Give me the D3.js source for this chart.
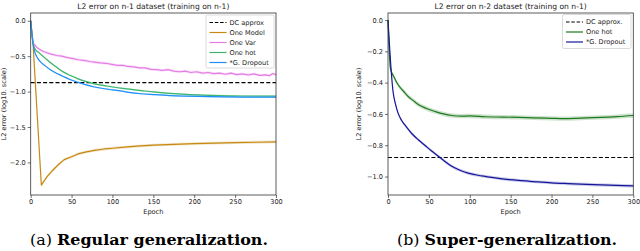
<!DOCTYPE html>
<html><head><meta charset="utf-8">
<script src="https://cdn.jsdelivr.net/npm/d3@7"></script>
<style>body{margin:0;background:#fff}svg{display:block}text{font-family:"DejaVu Sans",sans-serif;fill:#222}text.cap{font-family:"DejaVu Serif","Liberation Serif",serif;fill:#000}</style>
</head><body>
<svg id="c" width="640" height="251"></svg>
<script>
// ---- data ----
const xTicks = [0, 50, 100, 150, 200, 250, 300];
const yTicksA = [0, -0.5, -1.0, -1.5, -2.0];
const yTicksB = [0, -0.2, -0.4, -0.6, -0.8, -1.0];
const dcA = -0.873, dcB = -0.878;

const oneModelA = [[0,0],[3,-0.35],[13,-2.32],[20,-2.2],[27,-2.11],[34,-2.03],[41,-1.96],[50,-1.92],[58,-1.88],[68,-1.85],[78,-1.83],[90,-1.81],[100,-1.80],[115,-1.785],[130,-1.77],[150,-1.755],[175,-1.745],[200,-1.735],[225,-1.728],[250,-1.72],[275,-1.715],[300,-1.71]];
const oneVarA = [[0,0],[3,-0.32],[8,-0.38],[13,-0.42],[17,-0.44],[25,-0.47],[32,-0.49],[38,-0.50],[45,-0.52],[52,-0.535],[58,-0.55],[65,-0.56],[72,-0.575],[78,-0.585],[85,-0.595],[92,-0.60],[99,-0.615],[106,-0.63],[113,-0.63],[119,-0.645],[126,-0.65],[133,-0.665],[140,-0.665],[147,-0.685],[154,-0.69],[161,-0.70],[168,-0.69],[175,-0.71],[182,-0.72],[189,-0.71],[196,-0.73],[203,-0.72],[210,-0.74],[217,-0.73],[224,-0.745],[231,-0.74],[238,-0.755],[245,-0.74],[252,-0.76],[259,-0.75],[266,-0.765],[273,-0.75],[280,-0.77],[287,-0.765],[292,-0.775],[296,-0.745],[300,-0.76]];
const oneHotA = [[0,0],[3,-0.33],[5,-0.39],[10,-0.45],[17,-0.52],[24,-0.59],[31,-0.65],[38,-0.71],[48,-0.77],[58,-0.82],[68,-0.86],[78,-0.89],[90,-0.915],[100,-0.935],[110,-0.95],[120,-0.965],[135,-0.985],[150,-1.005],[170,-1.025],[190,-1.04],[210,-1.05],[230,-1.057],[260,-1.062],[300,-1.064]];
const dropoutA = [[0,0],[3,-0.33],[5,-0.44],[8,-0.52],[12,-0.58],[17,-0.63],[25,-0.70],[32,-0.745],[38,-0.775],[48,-0.83],[58,-0.87],[68,-0.905],[78,-0.935],[90,-0.96],[100,-0.975],[110,-0.99],[120,-1.01],[135,-1.03],[150,-1.042],[170,-1.056],[190,-1.064],[220,-1.072],[260,-1.077],[300,-1.079]];

const oneHotB = [[0,0],[3,-0.31],[7,-0.36],[12.6,-0.415],[19,-0.455],[25,-0.49],[31,-0.515],[37,-0.54],[47,-0.565],[58,-0.585],[68,-0.60],[78,-0.61],[90,-0.614],[100,-0.613],[119,-0.618],[140,-0.62],[160,-0.622],[178,-0.625],[200,-0.628],[215,-0.63],[230,-0.628],[243,-0.625],[260,-0.622],[280,-0.617],[300,-0.61]];
const dropoutB = [[0,0],[3.7,-0.31],[6,-0.45],[8.8,-0.53],[12,-0.59],[16.5,-0.64],[22,-0.68],[29,-0.725],[37,-0.765],[45,-0.80],[53,-0.835],[62,-0.872],[70,-0.905],[78,-0.935],[88,-0.96],[98,-0.978],[110,-0.992],[120,-1.0],[140,-1.015],[160,-1.025],[178,-1.032],[200,-1.04],[220,-1.045],[243,-1.05],[270,-1.055],[300,-1.06]];

const legendA = ["DC approx", "One Model", "One Var", "One hot", "*G. Dropout"];
const legendB = ["DC approx.", "One hot", "*G. Dropout"];

// ---- drawing ----
const svg = d3.select("#c");
const fmt = v => (v === 0 ? "0.0" : d3.format(".1f")(v)).replace("-", "\u2212");

function panel(o) {
  const x = d3.scaleLinear().domain([0, 300]).range([o.x0, o.x1]);
  const y = d3.scaleLinear().domain(o.yDom).range([13, 195]);
  const g = svg.append("g");
  o.series.forEach(s => {
    const area = d3.area().curve(s.curve).x(d => x(d[0])).y0(d => y(d[1] - s.sp)).y1(d => y(d[1] + s.sp));
    g.append("path").attr("d", area(s.data)).attr("fill", s.color).attr("opacity", 0.22);
  });
  g.append("line").attr("x1", x(0)).attr("x2", x(300)).attr("y1", y(o.dc)).attr("y2", y(o.dc))
    .attr("stroke", "#000").attr("stroke-width", 1.1).attr("stroke-dasharray", "4,2.2");
  o.series.forEach(s => {
    const line = d3.line().curve(s.curve).x(d => x(d[0])).y(d => y(d[1]));
    g.append("path").attr("d", line(s.data)).attr("fill", "none").attr("stroke", s.color)
      .attr("stroke-width", 1.2).attr("stroke-linejoin", "round");
  });
  // axes
  const ax = g.append("g").attr("transform", `translate(0,195)`)
    .call(d3.axisBottom(x).tickValues(xTicks).tickSize(3).tickPadding(1.5).tickFormat(d3.format("d")));
  const ay = g.append("g").attr("transform", `translate(${o.x0},0)`)
    .call(d3.axisLeft(y).tickValues(o.yTicks).tickSize(3).tickPadding(2).tickFormat(fmt));
  [ax, ay].forEach(a => {
    a.select(".domain").remove();
    a.selectAll("text").attr("font-size", 6.6).attr("fill", "#222");
    a.selectAll("line").attr("stroke", "#333").attr("stroke-width", 0.7);
  });
  g.append("rect").attr("x", o.x0).attr("y", 13).attr("width", o.x1 - o.x0).attr("height", 182)
    .attr("fill", "none").attr("stroke", "#333").attr("stroke-width", 0.8);
  // labels
  const cx = (o.x0 + o.x1) / 2;
  g.append("text").attr("x", cx).attr("y", 9).attr("text-anchor", "middle").attr("font-size", 7.6).text(o.title);
  g.append("text").attr("x", cx).attr("y", 214).attr("text-anchor", "middle").attr("font-size", 6.6).text("Epoch");
  g.append("text").attr("transform", `translate(${o.ylx},104) rotate(-90)`).attr("text-anchor", "middle")
    .attr("font-size", 6.6).text("L2 error (log10. scale)");
  // legend
  const L = o.leg;
  g.append("rect").attr("x", L.x).attr("y", L.y).attr("width", L.w).attr("height", L.h).attr("rx", 1.5)
    .attr("fill", "#fff").attr("fill-opacity", 0.85).attr("stroke", "#ccc").attr("stroke-width", 0.7);
  const items = [{color: "#000", dash: true}].concat(o.series);
  items.forEach((s, i) => {
    const yy = L.y + 7.5 + i * 10;
    g.append("line").attr("x1", L.x + 3.5).attr("x2", L.x + 20.5).attr("y1", yy).attr("y2", yy)
      .attr("stroke", s.color).attr("stroke-width", 1.2).attr("stroke-dasharray", s.dash ? "3.5,1.8" : null);
    g.append("text").attr("x", L.x + 23.5).attr("y", yy + 2.4).attr("font-size", 6.6).text(o.names[i]);
  });
  // caption
  const cap = svg.append("text").attr("class", "cap").attr("y", 245).attr("font-size", 14.5);
  cap.append("tspan").text(o.cap[0]);
  cap.append("tspan").attr("font-weight", "bold").text(o.cap[1]);
  cap.attr("x", o.capX).attr("textLength", o.capW).attr("lengthAdjust", "spacingAndGlyphs");
}

const smooth = d3.curveMonotoneX, sharp = d3.curveLinear;
panel({x0: 30.7, x1: 276, yDom: [0.11, -2.46], yTicks: yTicksA, dc: dcA,
  title: "L2 error on n-1 dataset (training on n-1)", ylx: 6,
  series: [
    {data: oneModelA, color: "#c68a12", sp: 0.02, curve: sharp},
    {data: oneVarA, color: "#e57de4", sp: 0.02, curve: sharp},
    {data: oneHotA, color: "#3db46d", sp: 0.012, curve: smooth},
    {data: dropoutA, color: "#1e8ffa", sp: 0.01, curve: smooth}],
  names: legendA, leg: {x: 206, y: 15, w: 68, h: 53},
  cap: ["(a) ", "Regular generalization."], capX: 30, capW: 238});

panel({x0: 388, x1: 633.3, yDom: [0.045, -1.118], yTicks: yTicksB, dc: dcB,
  title: "L2 error on n-2 dataset (training on n-1)", ylx: 361,
  series: [
    {data: oneHotB, color: "#1e7a1e", sp: 0.014, curve: smooth},
    {data: dropoutB, color: "#16169a", sp: 0.01, curve: smooth}],
  names: legendB, leg: {x: 562.5, y: 14.5, w: 68.5, h: 34},
  cap: ["(b) ", "Super-generalization."], capX: 397, capW: 220});
</script>
</body></html>
